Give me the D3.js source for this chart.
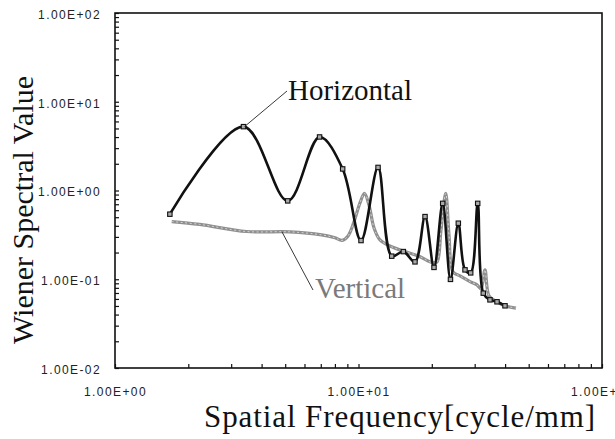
<!DOCTYPE html>
<html>
<head>
<meta charset="utf-8">
<script src="https://cdn.jsdelivr.net/npm/d3@7"></script>
<style>
  html, body { margin: 0; padding: 0; background: #fff; }
  svg { display: block; }
</style>
</head>
<body>
<svg id="chart" width="615" height="439"></svg>
<script>
// ---- Data ----
const horizFreq = [1.68, 3.37, 5.12, 6.92, 8.61, 10.24, 12.03, 13.69, 15.28, 17.06, 18.76, 20.42, 22.17, 23.86, 25.70, 27.38, 28.89, 30.87, 32.54, 34.67, 37.06, 39.96];
const horizValue = [0.541, 5.24, 0.764, 4.01, 1.75, 0.273, 1.82, 0.182, 0.205, 0.157, 0.508, 0.136, 0.716, 0.0997, 0.428, 0.1276, 0.118, 0.716, 0.0697, 0.0586, 0.0557, 0.0502];

const vertFreq = [1.71, 2.23, 3.47, 5.23, 7.06, 8.01, 8.56, 9.06, 9.58, 10.14, 10.58, 11.04, 11.58, 12.25, 13.69, 15.52, 17.55, 20.23, 21.01, 21.82, 22.81, 23.53, 24.44, 26.12, 28.71, 30.67, 31.86, 33.07, 34.35, 36.95, 39.96, 44.35];
const vertValue = [0.447, 0.415, 0.345, 0.342, 0.316, 0.293, 0.274, 0.308, 0.443, 0.725, 0.927, 0.688, 0.379, 0.278, 0.232, 0.205, 0.184, 0.153, 0.157, 0.36, 0.927, 0.316, 0.121, 0.109, 0.094, 0.0865, 0.078, 0.128, 0.065, 0.0561, 0.0502, 0.0473];

const xTickValues = [1, 10, 100];
const xTickLabels = ["1.00E+00", "1.00E+01", "1.00E+02"];
const yTickValues = [0.01, 0.1, 1, 10, 100];
const yTickLabels = ["1.00E-02", "1.00E-01", "1.00E+00", "1.00E+01", "1.00E+02"];

const xTitle = "Spatial Frequency[cycle/mm]";
const yTitle = "Wiener Spectral Value";
const seriesNames = ["Horizontal", "Vertical"];

// ---- Layout ----
const svg = d3.select("#chart");
const L = 115, R = 602, T = 13, B = 368;

const x = d3.scaleLog().domain([1, 100]).range([L, R]);
const y = d3.scaleLog().domain([0.01, 100]).range([B, T]);

const minor = (lo, hi) => {
  const out = [];
  for (let d = lo; d < hi; d *= 10) for (let k = 1; k <= 9; k++) out.push(+(d * k).toPrecision(6));
  out.push(hi);
  return out;
};

// minor/major ticks (inward)
svg.append("g").attr("transform", `translate(${L},0)`)
  .call(d3.axisRight(y).tickValues(minor(0.01, 100)).tickSize(4).tickFormat(""))
  .call(g => g.select(".domain").remove())
  .selectAll("line").attr("stroke", "#111").attr("stroke-width", 1.2);

svg.append("g").attr("transform", `translate(0,${B})`)
  .call(d3.axisTop(x).tickValues(minor(1, 100)).tickSize(4).tickFormat(""))
  .call(g => g.select(".domain").remove())
  .selectAll("line").attr("stroke", "#111").attr("stroke-width", 1.2);

// tick labels
const yAxis = svg.append("g").attr("transform", `translate(${L},0)`)
  .call(d3.axisLeft(y).tickValues(yTickValues).tickSize(0).tickPadding(14)
    .tickFormat((d, i) => yTickLabels[i]));
yAxis.select(".domain").remove();
yAxis.selectAll("text")
  .attr("font-family", "'Liberation Sans', Arial, sans-serif")
  .attr("font-size", 12).attr("letter-spacing", "1.4px").attr("fill", "#222")
  .attr("dy", "0.45em");

const xAxis = svg.append("g").attr("transform", `translate(0,${B})`)
  .call(d3.axisBottom(x).tickValues(xTickValues).tickSize(0).tickPadding(19)
    .tickFormat((d, i) => xTickLabels[i]));
xAxis.select(".domain").remove();
xAxis.selectAll("text")
  .attr("font-family", "'Liberation Sans', Arial, sans-serif")
  .attr("font-size", 12).attr("letter-spacing", "1.4px").attr("fill", "#222");

// frame
svg.append("rect").attr("x", L).attr("y", T).attr("width", R - L).attr("height", B - T)
  .attr("fill", "none").attr("stroke", "#111").attr("stroke-width", 1.6);

// ---- Series ----
const vertData = vertFreq.map((f, i) => [f, vertValue[i]]);
const horizData = horizFreq.map((f, i) => [f, horizValue[i]]);

const line = d3.line().x(d => x(d[0])).y(d => y(d[1])).curve(d3.curveCatmullRom.alpha(0.5));

// Vertical (gray, stippled look)
svg.append("path").datum(vertData).attr("d", line)
  .attr("fill", "none").attr("stroke", "#8f8f8f").attr("stroke-width", 3.2)
  .attr("stroke-linejoin", "round");
svg.append("path").datum(vertData).attr("d", line)
  .attr("fill", "none").attr("stroke", "#d4d4d4").attr("stroke-width", 1)
  .attr("stroke-dasharray", "2,2.5");

// Horizontal (black)
svg.append("path").datum(horizData).attr("d", line)
  .attr("fill", "none").attr("stroke", "#111").attr("stroke-width", 2.6)
  .attr("stroke-linejoin", "round");
svg.append("g").selectAll("rect").data(horizData).join("rect")
  .attr("x", d => x(d[0]) - 2.2).attr("y", d => y(d[1]) - 2.2)
  .attr("width", 4.4).attr("height", 4.4)
  .attr("fill", "#aaa").attr("stroke", "#111").attr("stroke-width", 1.1);

// ---- Annotations ----
const hPeak = horizData[1];
svg.append("line")
  .attr("x1", x(hPeak[0]) + 1).attr("y1", y(hPeak[1]))
  .attr("x2", 287).attr("y2", 91)
  .attr("stroke", "#222").attr("stroke-width", 0.9);
svg.append("text").attr("x", 288).attr("y", 100)
  .attr("font-family", "'Liberation Serif', 'Times New Roman', serif")
  .attr("font-size", 29).attr("fill", "#111").text(seriesNames[0]);

const vPt = vertData[3];
svg.append("line")
  .attr("x1", x(vPt[0]) - 8).attr("y1", y(vPt[1]))
  .attr("x2", 313).attr("y2", 290)
  .attr("stroke", "#222").attr("stroke-width", 0.9);
svg.append("text").attr("x", 315).attr("y", 298)
  .attr("font-family", "'Liberation Serif', 'Times New Roman', serif")
  .attr("font-size", 29).attr("fill", "#7a7a7a").text(seriesNames[1]);

// ---- Axis titles ----
svg.append("text").attr("x", 400).attr("y", 427).attr("text-anchor", "middle")
  .attr("font-family", "'Liberation Serif', 'Times New Roman', serif")
  .attr("font-size", 31).attr("letter-spacing", "0.9px").attr("fill", "#111").text(xTitle);

svg.append("text").attr("transform", "translate(33,210) rotate(-90)")
  .attr("text-anchor", "middle")
  .attr("font-family", "'Liberation Serif', 'Times New Roman', serif")
  .attr("font-size", 30).attr("fill", "#111").text(yTitle);
</script>
</body>
</html>
